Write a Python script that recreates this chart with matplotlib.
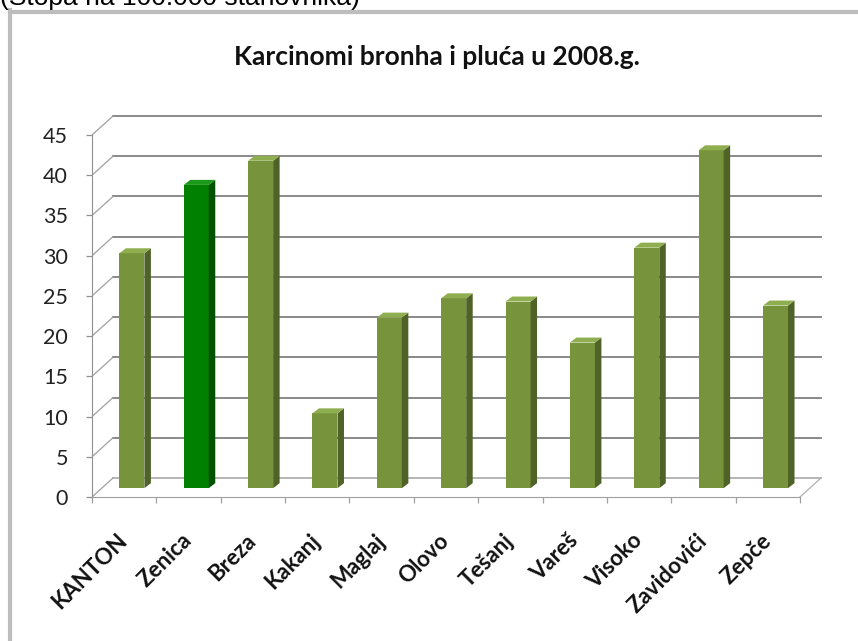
import matplotlib
matplotlib.use('Agg')
import matplotlib.pyplot as plt
from matplotlib.patches import Polygon
from matplotlib.lines import Line2D
import numpy as np

# ---- data ----
categories = ['KANTON', 'Zenica', 'Breza', 'Kakanj', 'Maglaj', 'Olovo',
              'Tešanj', 'Vareš', 'Visoko', 'Zavidovići', 'Zepče']
values = [29.2, 37.7, 40.7, 9.3, 21.2, 23.6, 23.2, 18.1, 29.9, 42.0, 22.7]
highlight = 'Zenica'
y_ticks = list(range(0, 50, 5))
title = 'Karcinomi bronha i pluća u 2008.g.'
subtitle = '(Stopa na 100.000 stanovnika)'

# ---- styles ----
FONT = ['Lato', 'DejaVu Sans']
face_col, side_col, top_col = '#77933C', '#4F6228', '#8FAE50'
hface_col, hside_col, htop_col = '#008000', '#005200', '#1A991A'
grid_col = '#808080'

W_PX, H_PX = 858, 641
fig = plt.figure(figsize=(W_PX / 100, H_PX / 100), dpi=100)
PX_CAT = 64.36
PX_UNIT = 8.044
ax_left, ax_right, ax_top, ax_bottom = 92, 832, 100, 497
ax = fig.add_axes([ax_left / W_PX, 1 - ax_bottom / H_PX,
                   (ax_right - ax_left) / W_PX, (ax_bottom - ax_top) / H_PX])
ax.set_xlim(0, (ax_right - ax_left) / PX_CAT)
ax.set_ylim(0, (ax_bottom - ax_top) / PX_UNIT)
ax.patch.set_alpha(0)

n = len(categories)
DX = 21 / PX_CAT
DY = 19 / PX_UNIT

# back wall gridlines and side-wall diagonals
for v in y_ticks:
    ax.add_line(Line2D([DX, n + DX], [v + DY, v + DY],
                       color=grid_col if v > 0 else '#b0b0b0', lw=1.3, zorder=1))
    ax.add_line(Line2D([0, DX], [v, v + DY], color='#a0a0a0', lw=0.9, zorder=1))
# floor right edge
ax.add_line(Line2D([n, n + DX], [0, DY], color='#b0b0b0', lw=0.9, zorder=1))

# bars
W = 25 / PX_CAT
OFF = 0.12
BASE = 1.1
fdx = 6.5 / PX_CAT
fdy = 5 / PX_UNIT
xc = np.arange(n) + 0.5 + OFF
fronts = [hface_col if c == highlight else face_col for c in categories]
ax.bar(xc, values, width=W, bottom=BASE, color=fronts, zorder=3, linewidth=0)
for i, (c, v) in enumerate(zip(categories, values)):
    xl = xc[i] - W / 2
    xr = xc[i] + W / 2
    top = BASE + v
    sc = hside_col if c == highlight else side_col
    tc = htop_col if c == highlight else top_col
    ax.add_patch(Polygon([(xr, BASE), (xr + fdx, BASE + fdy), (xr + fdx, top + fdy), (xr, top)],
                         closed=True, facecolor=sc, edgecolor='none', zorder=3))
    ax.add_patch(Polygon([(xl, top), (xr, top), (xr + fdx, top + fdy), (xl + fdx, top + fdy)],
                         closed=True, facecolor=tc, edgecolor='none', zorder=3))

# axes, ticks
for s in ['top', 'right']:
    ax.spines[s].set_visible(False)
ax.spines['left'].set_bounds(0, 45)
ax.spines['left'].set_color('#909090')
ax.spines['bottom'].set_bounds(0, n)
ax.spines['bottom'].set_color('#a0a0a0')
ax.set_yticks(y_ticks)
ax.set_yticklabels([str(t) for t in y_ticks], fontsize=15.5, family=FONT, color='#222222')
ax.tick_params(axis='y', length=4.3, width=0.9, color='#909090', pad=13)
ax.set_xticks(np.arange(n) + 0.5)
ax.set_xticklabels(categories, fontsize=16, family=FONT, fontweight='bold',
                   rotation=45, ha='right', va='center', rotation_mode='anchor',
                   color='#111111')
ax.tick_params(axis='x', which='major', length=0, pad=29)
ax.set_xticks(np.arange(n + 1), minor=True)
ax.tick_params(axis='x', which='minor', length=4.3, width=0.9, color='#a0a0a0')

# title and header
fig.text(437 / W_PX, 1 - 57 / H_PX, title, ha='center', va='center',
         fontsize=19, fontweight='bold', family=FONT, color='#111111')
fig.text(0.0, 1 - 5 / H_PX, subtitle, ha='left', va='baseline',
         fontsize=19, family=['Liberation Sans', 'DejaVu Sans'], color='black')

# chart frame (top and left borders)
fig.add_artist(Line2D([10 / W_PX, 1.0], [1 - 11.5 / H_PX, 1 - 11.5 / H_PX],
                      transform=fig.transFigure, color='#bdbdbd', lw=3))
fig.add_artist(Line2D([10 / W_PX, 10 / W_PX], [0.0, 1 - 10 / H_PX],
                      transform=fig.transFigure, color='#bdbdbd', lw=3))

fig.savefig('out.png', dpi=100)
